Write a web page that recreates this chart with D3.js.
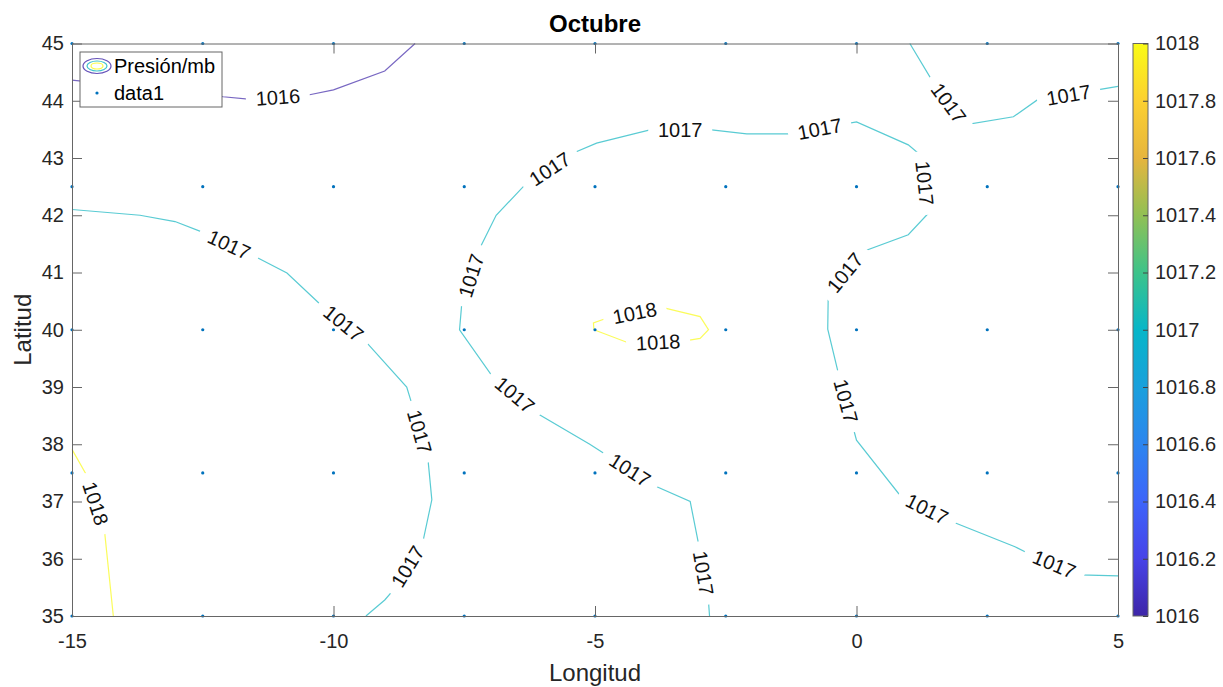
<!DOCTYPE html>
<html>
<head>
<meta charset="utf-8">
<script src="https://cdn.jsdelivr.net/npm/d3@7"></script>
<style>
    body { margin: 0; background: #fff; }
    text { font-family: "Liberation Sans", Arial, Helvetica, sans-serif; fill: #262626; }
</style>
</head>
<body>
<div id="chart"></div>
<script>

var lonTicks = [-15, -10, -5, 0, 5];
var latTicks = [35, 36, 37, 38, 39, 40, 41, 42, 43, 44, 45];

var stationLon = [-15, -12.5, -10, -7.5, -5, -2.5, 0, 2.5, 5];
var stationLat = [35, 37.5, 40, 42.5, 45];

var barTicks = [1016, 1016.2, 1016.4, 1016.6, 1016.8, 1017, 1017.2, 1017.4, 1017.6, 1017.8, 1018];

// parula, roughly
var parula = ["#3e26a8", "#4743e8", "#3d64fa", "#2c85ef", "#1aa0dc", "#07b6c8",
              "#3dc38a", "#91c054", "#e6b53e", "#fcd030", "#f9fb15"];

// isobars as (lon, lat)
var iso1016 = [[-15, 44.36], [-12.5, 44.12], [-12.11, 44.07], [-11.63, 44.03], [-10.48, 44.10],
               [-10.0, 44.19], [-9.02, 44.52], [-8.44, 45]];

var iso1017West = [[-15, 42.10], [-13.70, 42.00], [-13.03, 41.89], [-12.52, 41.71], [-11.50, 41.28],
                   [-10.89, 40.99], [-10.26, 40.45], [-9.40, 39.81], [-8.60, 39.00], [-8.49, 38.67],
                   [-8.19, 37.70], [-8.12, 37.03], [-8.29, 36.30], [-8.87, 35.44], [-9.02, 35.28],
                   [-9.38, 35]];

var iso1017Ring = [[-2.81, 35], [-2.83, 35.25], [-3.02, 36.26], [-3.18, 37.00], [-3.85, 37.27],
                   [-4.81, 37.83], [-5.10, 38.00], [-6.11, 38.54], [-6.98, 39.21], [-7.59, 40.00],
                   [-7.55, 40.43], [-7.21, 41.41], [-6.89, 42.00], [-6.34, 42.53], [-5.38, 43.10],
                   [-4.97, 43.26], [-3.95, 43.49], [-2.77, 43.49], [-2.10, 43.42], [-1.24, 43.42],
                   [0.00, 43.63], [0.99, 43.23], [1.25, 43.03], [1.37, 42.03], [0.99, 41.66],
                   [0.10, 41.36], [-0.54, 40.64], [-0.55, 40.01], [-0.35, 39.25], [-0.05, 38.24],
                   [0.00, 38.07], [0.83, 37.11], [1.82, 36.65], [3.03, 36.21], [3.25, 36.11],
                   [4.27, 35.72], [5, 35.70]];

var iso1017NorthEast = [[1.02, 45], [1.44, 44.36], [2.07, 43.58], [3.00, 43.72], [3.45, 44.01], [5, 44.25]];

var iso1018West = [[-15, 37.91], [-14.72, 37.46], [-14.38, 36.50], [-14.21, 35]];

var iso1018Centre = [[-5.02, 40.00], [-5.03, 40.12], [-4.78, 40.20], [-3.72, 40.39], [-2.99, 40.23],
                     [-2.83, 40.00], [-2.99, 39.85], [-3.25, 39.81], [-4.33, 39.76], [-5.02, 40.00]];

// where the level labels sit
var marks1016 = [[-11.06, 44.01]];
var marks1017West = [[-11.98, 41.52], [-9.81, 40.11], [-8.35, 38.22], [-8.57, 35.86]];
var marks1017Ring = [[-2.93, 35.75], [-4.33, 37.55], [-6.59, 38.80], [-7.42, 40.96], [-5.89, 42.85],
                     [-3.37, 43.47], [-0.70, 43.49], [1.28, 42.56], [-0.32, 41.07], [-0.25, 38.74],
                     [1.34, 36.85], [3.76, 35.86]];
var marks1017NorthEast = [[1.72, 43.93], [4.05, 44.13]];
var marks1018West = [[-14.53, 36.97]];
var marks1018Centre = [[-4.24, 40.29], [-3.79, 39.73]];


function Chart(element, width, height) {

    var chart = {

        width: width,

        height: height,

        margin: {
            top: 43.5,
            bottom: 71,
            left: 72,
            right: 105
        },

        x: null,

        y: null,

        colour: null,

        svg: null,

        contours: [
            { level: 1016, points: iso1016, marks: marks1016 },
            { level: 1017, points: iso1017West, marks: marks1017West },
            { level: 1017, points: iso1017Ring, marks: marks1017Ring },
            { level: 1017, points: iso1017NorthEast, marks: marks1017NorthEast },
            { level: 1018, points: iso1018West, marks: marks1018West },
            { level: 1018, points: iso1018Centre, marks: marks1018Centre }
        ],

        scale: function () {

            this.x = d3.scaleLinear()
                .domain([-15, 5])
                .range([this.margin.left, this.width - this.margin.right]);

            this.y = d3.scaleLinear()
                .domain([35, 45])
                .range([this.height - this.margin.bottom, this.margin.top]);

            this.colour = d3.scaleSequential(d3.interpolateRgbBasis(parula))
                .domain([1016, 1018]);
        },

        build: function () {

            this.svg = d3.select(element)
                .append("svg")
                .attr("width", this.width)
                .attr("height", this.height);

            this.scale();

            this.lines(this.svg.append("g"));
            this.labels(this.svg.append("g"));
            this.stations(this.svg.append("g"));
            this.axis(this.svg.append("g"));
            this.colorbar(this.svg.append("g"));
            this.legend(this.svg.append("g"));
        },

        lines: function (layer) {

            var that = this;

            var line = d3.line()
                .x(function (d) { return that.x(d[0]); })
                .y(function (d) { return that.y(d[1]); });

            layer.selectAll("path.iso")
                .data(this.contours)
                .enter()
                .append("path")
                .attr("class", "iso")
                .attr("d", function (d) { return line(d.points); })
                .attr("fill", "none")
                .attr("stroke", function (d) { return that.colour(d.level); })
                .attr("stroke-opacity", 0.7)
                .attr("stroke-width", 1.2);
        },

        // snap a label onto its line and take the angle of that piece
        place: function (points, mark) {

            var px = this.x(mark[0]), py = this.y(mark[1]);
            var best = null;

            for (var i = 0; i < points.length - 1; i++) {

                var ax = this.x(points[i][0]), ay = this.y(points[i][1]);
                var bx = this.x(points[i + 1][0]), by = this.y(points[i + 1][1]);
                var dx = bx - ax, dy = by - ay;
                var t = ((px - ax) * dx + (py - ay) * dy) / (dx * dx + dy * dy);
                t = Math.max(0, Math.min(1, t));
                var qx = ax + t * dx, qy = ay + t * dy;
                var dist = (qx - px) * (qx - px) + (qy - py) * (qy - py);

                if (best === null || dist < best.dist) {
                    var angle = Math.atan2(dy, dx) * 180 / Math.PI;
                    if (angle > 90) angle -= 180;
                    if (angle <= -90) angle += 180;
                    best = { x: qx, y: qy, angle: angle, dist: dist };
                }
            }

            return best;
        },

        labels: function (layer) {

            var that = this;
            var items = [];

            this.contours.forEach(function (c) {
                c.marks.forEach(function (m) {
                    var p = that.place(c.points, m);
                    p.level = c.level;
                    items.push(p);
                });
            });

            var g = layer.selectAll("g.clabel")
                .data(items)
                .enter()
                .append("g")
                .attr("class", "clabel")
                .attr("transform", function (d) {
                    return "translate(" + d.x + "," + d.y + ") rotate(" + d.angle + ")";
                });

            g.append("rect")
                .attr("x", -32)
                .attr("y", -7)
                .attr("width", 64)
                .attr("height", 14)
                .attr("fill", "#fff");

            g.append("text")
                .attr("text-anchor", "middle")
                .attr("dy", "0.36em")
                .attr("font-size", "20px")
                .style("fill", "#111")
                .text(function (d) { return d.level; });
        },

        stations: function (layer) {

            var that = this;
            var pts = [];

            stationLat.forEach(function (lat) {
                stationLon.forEach(function (lon) {
                    pts.push([lon, lat]);
                });
            });

            layer.selectAll("circle")
                .data(pts)
                .enter()
                .append("circle")
                .attr("cx", function (d) { return that.x(d[0]); })
                .attr("cy", function (d) { return that.y(d[1]); })
                .attr("r", 1.6)
                .attr("fill", "#0072bd");
        },

        axis: function (layer) {

            var that = this;
            var fmt = function (d) { return String(d); };
            var none = function () { return ""; };
            var bottom = this.height - this.margin.bottom;
            var right = this.width - this.margin.right;

            var xb = layer.append("g")
                .attr("transform", "translate(0," + bottom + ")")
                .call(d3.axisBottom(this.x).tickValues(lonTicks).tickSize(-10).tickSizeOuter(0).tickPadding(18).tickFormat(fmt));

            var xt = layer.append("g")
                .attr("transform", "translate(0," + this.margin.top + ")")
                .call(d3.axisTop(this.x).tickValues(lonTicks).tickSize(-10).tickSizeOuter(0).tickFormat(none));

            var yl = layer.append("g")
                .attr("transform", "translate(" + this.margin.left + ",0)")
                .call(d3.axisLeft(this.y).tickValues(latTicks).tickSize(-10).tickSizeOuter(0).tickPadding(8).tickFormat(fmt));

            var yr = layer.append("g")
                .attr("transform", "translate(" + right + ",0)")
                .call(d3.axisRight(this.y).tickValues(latTicks).tickSize(-10).tickSizeOuter(0).tickFormat(none));

            [xb, xt, yl, yr].forEach(function (a) {
                a.selectAll("path.domain").attr("stroke", "#666");
                a.selectAll(".tick line").attr("stroke", "#666");
                a.selectAll("text")
                    .attr("font-size", "20px")
                    .attr("font-family", null)
                    .attr("fill", "#262626");
            });

            this.svg.append("text")
                .attr("x", (this.margin.left + right) / 2)
                .attr("y", 32)
                .attr("text-anchor", "middle")
                .attr("font-size", "24px")
                .attr("font-weight", "bold")
                .style("fill", "#000")
                .text("Octubre");

            this.svg.append("text")
                .attr("x", (this.margin.left + right) / 2)
                .attr("y", 681)
                .attr("text-anchor", "middle")
                .attr("font-size", "24px")
                .text("Longitud");

            this.svg.append("text")
                .attr("transform", "translate(31," + (this.margin.top + bottom) / 2 + ") rotate(-90)")
                .attr("text-anchor", "middle")
                .attr("font-size", "24px")
                .text("Latitud");
        },

        colorbar: function (layer) {

            var left = 1133, w = 15;
            var top = this.margin.top, bottom = this.height - this.margin.bottom;

            var grad = this.svg.append("defs")
                .append("linearGradient")
                .attr("id", "parula")
                .attr("x1", 0).attr("y1", 1)
                .attr("x2", 0).attr("y2", 0);

            grad.selectAll("stop")
                .data(parula)
                .enter()
                .append("stop")
                .attr("offset", function (d, i) { return i / (parula.length - 1); })
                .attr("stop-color", function (d) { return d; });

            layer.append("rect")
                .attr("x", left)
                .attr("y", top)
                .attr("width", w)
                .attr("height", bottom - top)
                .attr("fill", "url(#parula)")
                .attr("stroke", "#666")
                .attr("stroke-width", 1);

            var cy = d3.scaleLinear().domain([1016, 1018]).range([bottom, top]);

            var a = layer.append("g")
                .attr("transform", "translate(" + (left + w) + ",0)")
                .call(d3.axisRight(cy).tickValues(barTicks).tickSize(-5).tickSizeOuter(0).tickPadding(7)
                    .tickFormat(function (d) { return String(d); }));

            a.select("path.domain").remove();
            a.selectAll(".tick line").attr("stroke", "#444");
            a.selectAll("text")
                .attr("font-size", "20px")
                .attr("font-family", null)
                .attr("fill", "#262626");
        },

        legend: function (layer) {

            var that = this;
            var lx = 80, ly = 52;

            layer.append("rect")
                .attr("x", lx)
                .attr("y", ly)
                .attr("width", 142)
                .attr("height", 55)
                .attr("fill", "#fff")
                .attr("stroke", "#666")
                .attr("stroke-width", 1);

            var rings = [[14, 7.5, 1016], [10, 5, 1017], [6, 3, 1018]];

            layer.selectAll("ellipse")
                .data(rings)
                .enter()
                .append("ellipse")
                .attr("cx", lx + 17)
                .attr("cy", ly + 14)
                .attr("rx", function (d) { return d[0]; })
                .attr("ry", function (d) { return d[1]; })
                .attr("fill", "none")
                .attr("stroke", function (d) { return that.colour(d[2]); })
                .attr("stroke-opacity", 0.8)
                .attr("stroke-width", 1.2);

            layer.append("circle")
                .attr("cx", lx + 17)
                .attr("cy", ly + 41)
                .attr("r", 1.6)
                .attr("fill", "#0072bd");

            layer.append("text")
                .attr("x", lx + 34)
                .attr("y", ly + 14)
                .attr("dy", "0.36em")
                .attr("font-size", "20px")
                .style("fill", "#000")
                .text("Presión/mb");

            layer.append("text")
                .attr("x", lx + 34)
                .attr("y", ly + 41)
                .attr("dy", "0.36em")
                .attr("font-size", "20px")
                .style("fill", "#000")
                .text("data1");
        }
    };

    return chart;
}

var chart = Chart("#chart", 1223, 687);
chart.build();

</script>
</body>
</html>
